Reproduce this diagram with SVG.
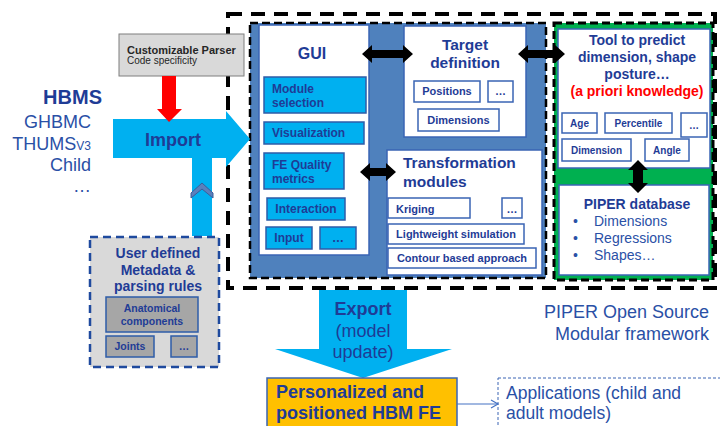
<svg xmlns="http://www.w3.org/2000/svg" width="720" height="426" viewBox="0 0 720 426">
<defs>
<style>
text{font-family:"Liberation Sans",Arial,sans-serif;}
.b{font-weight:bold;fill:#1F3C96;}
.r{fill:#2A50A6;}
.wbox{fill:#FFFFFF;stroke:#3A64B4;stroke-width:1.5;}
.lb{fill:#00B0F0;stroke:#2E5CA8;stroke-width:1.5;}
.gb{fill:#A6A6A6;stroke:#2E5CA8;stroke-width:1.5;}
.dash{fill:none;stroke:#000;}
.blk{fill:#000;}
</style>
<marker id="open" markerWidth="10" markerHeight="10" refX="8" refY="5" orient="auto" markerUnits="userSpaceOnUse">
<path d="M1,1 L8,5 L1,9" fill="none" stroke="#4472C4" stroke-width="1.2"/>
</marker>
</defs>
<rect width="720" height="426" fill="#FFFFFF"/>

<!-- outer framework -->
<g id="framework">
<rect x="228" y="14" width="487" height="274" class="dash" stroke-width="4" stroke-dasharray="14 9"/>
<text x="709" y="318" class="r" font-size="18" text-anchor="end">PIPER Open Source</text>
<text x="709" y="340" class="r" font-size="18" text-anchor="end">Modular framework</text>
</g>

<!-- export arrow (behind) -->
<g id="export">
<polygon points="319,290 407,290 407,349 452,349 363,378 275,349 319,349" fill="#00B0F0"/>
<text x="363" y="315" class="b" font-size="18" text-anchor="middle">Export</text>
<text x="363" y="337" font-size="18" fill="#1F3C96" text-anchor="middle">(model</text>
<text x="363" y="358" font-size="18" fill="#1F3C96" text-anchor="middle">update)</text>
</g>

<!-- blue panel -->
<g id="core-panel">
<rect x="250" y="23" width="296" height="255" fill="#4F81BD"/>
<rect x="250" y="23" width="296" height="255" class="dash" stroke-width="2.5" stroke-dasharray="8 4"/>
</g>

<g id="gui">
<rect x="259" y="25" width="110" height="230" class="wbox"/>
<text x="312" y="59" class="b" font-size="16" text-anchor="middle">GUI</text>
<rect x="264" y="77" width="102" height="36" class="lb"/>
<text x="272" y="93" class="b" font-size="12">Module</text>
<text x="272" y="107" class="b" font-size="12">selection</text>
<rect x="264" y="122" width="100" height="22" class="lb"/>
<text x="272" y="137" class="b" font-size="12">Visualization</text>
<rect x="264" y="153" width="80" height="36" class="lb"/>
<text x="272" y="169" class="b" font-size="12">FE Quality</text>
<text x="272" y="183" class="b" font-size="12">metrics</text>
<rect x="267" y="198" width="78" height="22" class="lb"/>
<text x="306" y="213" class="b" font-size="12" text-anchor="middle">Interaction</text>
<rect x="266" y="227" width="46" height="22" class="lb"/>
<text x="289" y="242" class="b" font-size="12" text-anchor="middle">Input</text>
<rect x="320" y="227" width="36" height="22" class="lb"/>
<text x="338" y="242" class="b" font-size="12" text-anchor="middle">…</text>
</g>

<g id="target">
<rect x="404" y="26" width="122" height="111" class="wbox"/>
<text x="465" y="50" class="b" font-size="15.5" text-anchor="middle">Target</text>
<text x="465" y="68" class="b" font-size="15.5" text-anchor="middle">definition</text>
<rect x="414" y="81" width="66" height="21" class="wbox"/>
<text x="447" y="95" class="b" font-size="11" text-anchor="middle">Positions</text>
<rect x="488" y="81" width="25" height="21" class="wbox"/>
<text x="500.5" y="95" class="b" font-size="11" text-anchor="middle">…</text>
<rect x="418" y="109" width="81" height="22" class="wbox"/>
<text x="458.5" y="124" class="b" font-size="11" text-anchor="middle">Dimensions</text>
</g>

<g id="transformation">
<rect x="387" y="150" width="155" height="125" class="wbox"/>
<text x="403" y="168" class="b" font-size="15.5">Transformation</text>
<text x="403" y="187" class="b" font-size="15.5">modules</text>
<rect x="388" y="198" width="82" height="20" class="wbox"/>
<text x="396" y="213" class="b" font-size="11">Kriging</text>
<rect x="502" y="198" width="20" height="20" class="wbox"/>
<text x="512" y="213" class="b" font-size="11" text-anchor="middle">…</text>
<rect x="388" y="224" width="136" height="20" class="wbox"/>
<text x="456" y="238" class="b" font-size="11" text-anchor="middle">Lightweight simulation</text>
<rect x="388" y="248" width="148" height="20" class="wbox"/>
<text x="462" y="262" class="b" font-size="11" text-anchor="middle">Contour based approach</text>
</g>

<!-- green panel -->
<g id="knowledge-panel">
<rect x="554" y="23" width="159" height="257" fill="#00B050"/>
<rect x="554" y="23" width="159" height="257" class="dash" stroke-width="3" stroke-dasharray="8 4"/>
</g>

<g id="tool">
<rect x="558" y="29" width="152" height="139" class="wbox"/>
<text x="637" y="45" class="b" font-size="14" text-anchor="middle">Tool to predict</text>
<text x="637" y="62" class="b" font-size="14" text-anchor="middle">dimension, shape</text>
<text x="637" y="79" class="b" font-size="14" text-anchor="middle">posture…</text>
<text x="637" y="96" font-size="14" font-weight="bold" fill="#FF0000" text-anchor="middle">(a priori knowledge)</text>
<rect x="562" y="113" width="35" height="20" class="wbox"/>
<text x="579.5" y="127" class="b" font-size="10" text-anchor="middle">Age</text>
<rect x="605" y="113" width="67" height="20" class="wbox"/>
<text x="638.5" y="127" class="b" font-size="10" text-anchor="middle">Percentile</text>
<rect x="681" y="113" width="26" height="24" class="wbox"/>
<text x="694" y="129" class="b" font-size="10" text-anchor="middle">…</text>
<rect x="562" y="139" width="69" height="22" class="wbox"/>
<text x="596.5" y="154" class="b" font-size="10" text-anchor="middle">Dimension</text>
<rect x="645" y="139" width="44" height="22" class="wbox"/>
<text x="667" y="154" class="b" font-size="10" text-anchor="middle">Angle</text>
</g>

<g id="database">
<rect x="559" y="185" width="150" height="90" class="wbox"/>
<text x="637" y="209" class="b" font-size="14" text-anchor="middle">PIPER database</text>
<text x="573" y="226" class="r" font-size="14">•</text>
<text x="594" y="226" class="r" font-size="14">Dimensions</text>
<text x="573" y="243" class="r" font-size="14">•</text>
<text x="594" y="243" class="r" font-size="14">Regressions</text>
<text x="573" y="260" class="r" font-size="14">•</text>
<text x="594" y="260" class="r" font-size="14">Shapes…</text>
</g>

<!-- left side -->
<g id="hbms">
<text x="102" y="104" class="b" font-size="20" text-anchor="end">HBMS</text>
<text x="91" y="128" class="r" font-size="18" text-anchor="end">GHBMC</text>
<text x="91" y="150" class="r" font-size="18" text-anchor="end">THUMS<tspan font-size="12">V3</tspan></text>
<text x="91" y="171" class="r" font-size="18" text-anchor="end">Child</text>
<text x="91" y="192" class="r" font-size="18" text-anchor="end">…</text>
</g>

<g id="import">
<polygon points="113,119 226,119 226,111 250,139 226,167 226,158 212,158 212,236 192,236 192,158 113,158" fill="#00B0F0"/>
<polygon points="191,193 202,183 213,193 213,198 202,189 191,198" fill="#5B80BC" stroke="#3B5E9A" stroke-width="1"/>
<text x="173" y="146" class="b" font-size="18" text-anchor="middle">Import</text>
</g>

<g id="parser">
<rect x="119" y="34" width="125" height="42" fill="#D9D9D9" stroke="#7F7F7F" stroke-width="1"/>
<text x="127" y="54" font-size="11" font-weight="bold" fill="#262626">Customizable Parser</text>
<text x="127" y="64" font-size="10" fill="#262626">Code specificity</text>
</g>

<g id="metadata">
<rect x="90" y="237" width="129" height="130" fill="#D9D9D9" stroke="#1F4A9E" stroke-width="2.5" stroke-dasharray="8 5"/>
<text x="158" y="258" class="b" font-size="14" text-anchor="middle">User defined</text>
<text x="158" y="275" class="b" font-size="14" text-anchor="middle">Metadata &amp;</text>
<text x="158" y="291" class="b" font-size="14" text-anchor="middle">parsing rules</text>
<rect x="106" y="297" width="92" height="35" class="gb"/>
<text x="152" y="312" class="b" font-size="10.5" text-anchor="middle">Anatomical</text>
<text x="152" y="325" class="b" font-size="10.5" text-anchor="middle">components</text>
<rect x="106" y="336" width="48" height="21" class="gb"/>
<text x="130" y="350" class="b" font-size="10.5" text-anchor="middle">Joints</text>
<rect x="171" y="336" width="26" height="21" class="gb"/>
<text x="184" y="350" class="b" font-size="10.5" text-anchor="middle">…</text>
</g>

<g id="output">
<rect x="267" y="378" width="190" height="52" fill="#FFC000" stroke="#3A64B4" stroke-width="1.5"/>
<text x="276" y="398" class="b" font-size="18">Personalized and</text>
<text x="276" y="419" class="b" font-size="18">positioned HBM FE</text>
</g>

<g id="applications">
<rect x="498" y="378" width="224" height="52" fill="none" stroke="#3A64B4" stroke-width="1" stroke-dasharray="3 2"/>
<text x="506" y="399" class="r" font-size="17.5">Applications (child and</text>
<text x="506" y="419" class="r" font-size="17.5">adult models)</text>
</g>

<!-- connectors -->
<g id="connectors">
<polygon points="162,76 176,76 176,109 182,109 169,122 157,109 162,109" fill="#FF0000"/>
<polygon points="362,54 372,45 372,50 403,50 403,45 413,54 403,63 403,58 372,58 372,63" class="blk"/>
<polygon points="518,54 528,45 528,50 555,50 555,45 565,54 555,63 555,58 528,58 528,63" class="blk"/>
<polygon points="360,172 370,163 370,168 386,168 386,163 396,172 386,181 386,176 370,176 370,181" class="blk"/>
<polygon points="638,160 648,170 643,170 643,183 648,183 638,193 628,183 633,183 633,170 628,170" class="blk"/>
<line x1="457" y1="404" x2="498" y2="404" stroke="#4472C4" stroke-width="1.2" marker-end="url(#open)"/>
</g>
</svg>
